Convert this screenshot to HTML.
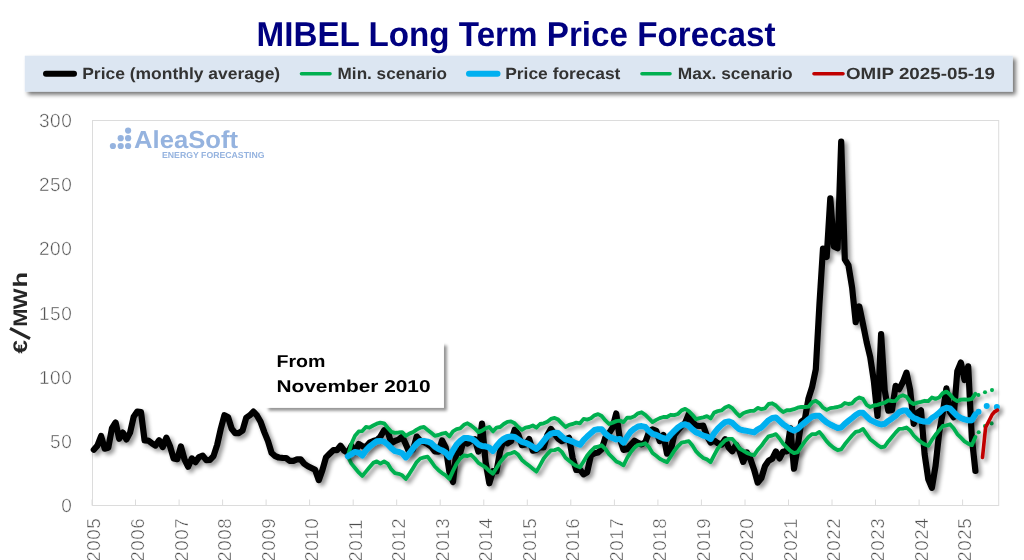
<!DOCTYPE html>
<html><head><meta charset="utf-8">
<style>
html,body{margin:0;padding:0;background:#fff;}
body{width:1024px;height:560px;position:relative;overflow:hidden;font-family:"Liberation Sans",sans-serif;}
#title{position:absolute;left:0;top:13px;width:1032px;text-align:center;font-weight:bold;font-size:32px;line-height:40px;color:#000080;letter-spacing:0px;white-space:nowrap;}
#legend{position:absolute;left:25px;top:56px;width:988px;height:36px;background:#dce6f2;box-shadow:2px 3px 4px rgba(0,0,0,0.45);}
.lt{position:absolute;top:64px;font-weight:bold;font-size:16px;line-height:20px;color:#333;white-space:nowrap;}
#note{position:absolute;left:266px;top:343px;width:178px;height:64px;background:#fff;box-shadow:3px 3px 4px rgba(0,0,0,0.4);}
#note div{position:absolute;left:11px;font-weight:bold;font-size:17px;line-height:20px;color:#000;white-space:nowrap;}
svg{position:absolute;left:0;top:0;will-change:transform;}
svg text{text-rendering:geometricPrecision;}
svg text{font-family:"Liberation Sans",sans-serif;}
</style></head><body>
<svg width="1024" height="560" viewBox="0 0 1024 560">
<defs>
<filter id="sh" filterUnits="userSpaceOnUse" x="0" y="0" width="1024" height="560"><feGaussianBlur in="SourceAlpha" stdDeviation="2.2"/><feOffset dx="2.8" dy="2.8"/><feComponentTransfer><feFuncA type="linear" slope="0.42"/></feComponentTransfer><feMerge><feMergeNode/><feMergeNode in="SourceGraphic"/></feMerge></filter>
</defs>
<rect x="92.5" y="120.5" width="906.2" height="385" fill="#fff" stroke="#dcdcdc" stroke-width="1"/>
<g stroke="#dcdcdc" stroke-width="1"><line x1="92.0" y1="499.5" x2="92.0" y2="505.5"/><line x1="135.5" y1="499.5" x2="135.5" y2="505.5"/><line x1="179.1" y1="499.5" x2="179.1" y2="505.5"/><line x1="222.6" y1="499.5" x2="222.6" y2="505.5"/><line x1="266.1" y1="499.5" x2="266.1" y2="505.5"/><line x1="309.6" y1="499.5" x2="309.6" y2="505.5"/><line x1="353.2" y1="499.5" x2="353.2" y2="505.5"/><line x1="396.7" y1="499.5" x2="396.7" y2="505.5"/><line x1="440.2" y1="499.5" x2="440.2" y2="505.5"/><line x1="483.8" y1="499.5" x2="483.8" y2="505.5"/><line x1="527.3" y1="499.5" x2="527.3" y2="505.5"/><line x1="570.8" y1="499.5" x2="570.8" y2="505.5"/><line x1="614.4" y1="499.5" x2="614.4" y2="505.5"/><line x1="657.9" y1="499.5" x2="657.9" y2="505.5"/><line x1="701.4" y1="499.5" x2="701.4" y2="505.5"/><line x1="745.0" y1="499.5" x2="745.0" y2="505.5"/><line x1="788.5" y1="499.5" x2="788.5" y2="505.5"/><line x1="832.0" y1="499.5" x2="832.0" y2="505.5"/><line x1="875.5" y1="499.5" x2="875.5" y2="505.5"/><line x1="919.1" y1="499.5" x2="919.1" y2="505.5"/><line x1="962.6" y1="499.5" x2="962.6" y2="505.5"/></g>
<g fill="#4d4d4d" stroke="#fff" stroke-width="0.5" font-size="19" letter-spacing="0.6"><text x="72.4" y="512.1" text-anchor="end">0</text><text x="72.4" y="447.9" text-anchor="end">50</text><text x="72.4" y="383.7" text-anchor="end">100</text><text x="72.4" y="319.5" text-anchor="end">150</text><text x="72.4" y="255.3" text-anchor="end">200</text><text x="72.4" y="191.1" text-anchor="end">250</text><text x="72.4" y="126.9" text-anchor="end">300</text></g>
<g fill="#4d4d4d" stroke="#fff" stroke-width="0.5" font-size="18.8" letter-spacing="0.55"><text transform="translate(100.4,561.7) rotate(-90)" >2005</text><text transform="translate(143.9,561.7) rotate(-90)" >2006</text><text transform="translate(187.5,561.7) rotate(-90)" >2007</text><text transform="translate(231.0,561.7) rotate(-90)" >2008</text><text transform="translate(274.5,561.7) rotate(-90)" >2009</text><text transform="translate(318.0,561.7) rotate(-90)" >2010</text><text transform="translate(361.6,561.7) rotate(-90)" >2011</text><text transform="translate(405.1,561.7) rotate(-90)" >2012</text><text transform="translate(448.6,561.7) rotate(-90)" >2013</text><text transform="translate(492.2,561.7) rotate(-90)" >2014</text><text transform="translate(535.7,561.7) rotate(-90)" >2015</text><text transform="translate(579.2,561.7) rotate(-90)" >2016</text><text transform="translate(622.8,561.7) rotate(-90)" >2017</text><text transform="translate(666.3,561.7) rotate(-90)" >2018</text><text transform="translate(709.8,561.7) rotate(-90)" >2019</text><text transform="translate(753.4,561.7) rotate(-90)" >2020</text><text transform="translate(796.9,561.7) rotate(-90)" >2021</text><text transform="translate(840.4,561.7) rotate(-90)" >2022</text><text transform="translate(883.9,561.7) rotate(-90)" >2023</text><text transform="translate(927.5,561.7) rotate(-90)" >2024</text><text transform="translate(971.0,561.7) rotate(-90)" >2025</text></g>
<g font-weight="bold" font-size="19.6" fill="#262626"><text transform="translate(27.1,353.4) rotate(-90)" textLength="13.4" lengthAdjust="spacingAndGlyphs">€</text><line x1="10" y1="328.4" x2="30" y2="338.6" stroke="#262626" stroke-width="3.2"/><text transform="translate(27.1,326.8) rotate(-90)" textLength="18.2" lengthAdjust="spacingAndGlyphs">M</text><text transform="translate(27.1,309.3) rotate(-90)" textLength="20.8" lengthAdjust="spacingAndGlyphs">W</text><text transform="translate(27.1,287.6) rotate(-90)" textLength="15.6" lengthAdjust="spacingAndGlyphs">h</text></g>
<!-- logo -->
<g fill="#95b3df">
<circle cx="112.9" cy="146" r="3.1"/><circle cx="120.7" cy="146" r="3.1"/><circle cx="128.1" cy="146" r="3.1"/>
<circle cx="120.7" cy="138.2" r="3.1"/><circle cx="128.1" cy="138.2" r="3.1"/>
<circle cx="128.1" cy="130.6" r="3.1"/>
<text x="134" y="148.2" font-weight="bold" font-size="24.6" textLength="104" lengthAdjust="spacingAndGlyphs">AleaSoft</text>
<text x="162" y="158.4" font-weight="bold" font-size="8.7" textLength="102.5" lengthAdjust="spacingAndGlyphs">ENERGY FORECASTING</text>
</g>
<g fill="none" stroke-linejoin="round" stroke-linecap="round">
<path d="M93.8,449.7 L97.4,445.6 L101.1,436.0 L104.7,448.6 L108.3,447.8 L112.0,428.1 L115.6,422.5 L119.2,438.8 L122.8,432.6 L126.5,439.4 L130.1,432.6 L133.7,416.7 L137.3,411.5 L141.0,412.1 L144.6,440.5 L148.2,440.6 L151.9,443.3 L155.5,445.5 L159.1,440.2 L162.7,447.0 L166.4,437.6 L170.0,446.2 L173.6,458.4 L177.3,459.2 L180.9,446.4 L184.5,459.4 L188.1,466.7 L191.8,458.4 L195.4,462.2 L199.0,457.1 L202.7,455.6 L206.3,460.2 L209.9,460.0 L213.5,456.1 L217.2,444.8 L220.8,428.8 L224.4,415.2 L228.1,417.3 L231.7,428.8 L235.3,433.2 L238.9,433.1 L242.6,430.4 L246.2,417.8 L249.8,415.3 L253.4,411.6 L257.1,415.7 L260.7,422.1 L264.3,432.1 L268.0,441.2 L271.6,453.0 L275.2,456.1 L278.8,457.5 L282.5,457.8 L286.1,458.0 L289.7,460.9 L293.4,460.8 L297.0,459.3 L300.6,459.3 L304.2,463.7 L307.9,466.2 L311.5,468.0 L315.1,469.8 L318.8,480.1 L322.4,470.1 L326.0,457.4 L329.6,453.8 L333.3,450.2 L336.9,450.2 L340.5,445.7 L344.1,450.6 L347.8,452.8 L351.4,445.8 L355.0,452.4 L358.7,444.0 L362.3,446.2 L365.9,447.0 L369.5,442.6 L373.2,441.1 L376.8,440.1 L380.4,436.6 L384.1,430.2 L387.7,431.6 L391.3,443.2 L394.9,441.0 L398.6,439.7 L402.2,436.6 L405.8,444.2 L409.4,452.5 L413.1,449.4 L416.7,436.6 L420.3,440.7 L424.0,442.0 L427.6,444.2 L431.2,446.6 L434.8,451.3 L438.5,451.7 L442.1,440.5 L445.7,447.5 L449.4,472.0 L453.0,482.0 L456.6,449.5 L460.2,452.8 L463.9,439.6 L467.5,443.6 L471.1,440.9 L474.8,439.2 L478.4,451.6 L482.0,423.6 L485.6,462.1 L489.3,483.3 L492.9,471.1 L496.5,471.4 L500.2,450.9 L503.8,439.9 L507.4,443.4 L511.0,441.2 L514.7,429.7 L518.3,434.6 L521.9,445.2 L525.5,444.4 L529.2,439.1 L532.8,450.7 L536.4,449.9 L540.1,447.1 L543.7,447.4 L547.3,435.0 L550.9,428.9 L554.6,433.9 L558.2,438.7 L561.8,441.2 L565.5,439.6 L569.1,437.8 L572.7,458.4 L576.3,470.0 L580.0,469.6 L583.6,474.3 L587.2,472.2 L590.9,455.4 L594.5,453.3 L598.1,452.5 L601.7,449.3 L605.4,437.5 L609.0,433.2 L612.6,427.6 L616.2,413.5 L619.9,438.9 L623.5,449.9 L627.1,449.2 L630.8,444.8 L634.4,440.8 L638.0,442.9 L641.6,444.4 L645.3,442.2 L648.9,432.4 L652.5,429.3 L656.2,430.9 L659.8,441.1 L663.4,434.9 L667.0,453.7 L670.7,450.5 L674.3,434.8 L677.9,430.3 L681.6,425.9 L685.2,422.7 L688.8,413.8 L692.4,421.8 L696.1,425.7 L699.7,426.0 L703.3,425.7 L706.9,436.0 L710.6,442.6 L714.2,440.6 L717.8,443.2 L721.5,444.7 L725.1,439.2 L728.7,447.6 L732.3,451.2 L736.0,444.7 L739.6,451.1 L743.2,461.9 L746.9,452.5 L750.5,459.3 L754.1,469.7 L757.7,482.6 L761.4,478.0 L765.0,466.0 L768.6,460.8 L772.2,458.8 L775.9,451.4 L779.5,458.4 L783.1,451.5 L786.8,451.4 L790.4,428.1 L794.0,468.7 L797.6,447.0 L801.3,421.8 L804.9,419.1 L808.5,398.4 L812.2,386.7 L815.8,369.3 L819.4,304.9 L823.0,248.5 L826.7,257.0 L830.3,198.3 L833.9,246.4 L837.6,248.3 L841.2,141.6 L844.8,259.4 L848.4,265.1 L852.1,287.5 L855.7,322.2 L859.3,306.5 L863.0,324.2 L866.6,342.0 L870.2,357.0 L873.8,380.8 L877.5,416.0 L881.1,334.0 L884.7,390.3 L888.3,410.7 L892.0,410.0 L895.6,385.9 L899.2,389.2 L902.9,382.0 L906.5,372.6 L910.1,389.6 L913.7,423.8 L917.4,412.7 L921.0,410.2 L924.6,454.0 L928.3,479.2 L931.9,487.8 L935.5,466.3 L939.1,433.3 L942.8,412.5 L946.4,388.4 L950.0,412.1 L953.6,417.3 L957.3,371.2 L960.9,362.5 L964.5,380.0 L968.2,366.3 L971.8,437.3 L975.4,470.9" stroke="#000" stroke-width="6.2" filter="url(#sh)"/>
<path d="M347.8,456.3 L351.4,463.6 L355.0,468.0 L358.7,472.4 L362.3,476.0 L365.9,471.6 L369.5,467.3 L373.2,462.9 L376.8,461.4 L380.4,463.6 L384.1,461.4 L387.7,463.6 L391.3,469.4 L394.9,473.1 L398.6,473.8 L402.2,475.3 L405.8,479.0 L409.4,473.8 L413.1,468.0 L416.7,462.1 L420.3,458.5 L424.0,457.4 L427.6,456.6 L431.2,461.4 L434.8,466.5 L438.5,470.2 L442.1,473.1 L445.7,475.3 L449.4,479.0 L453.0,470.9 L456.6,463.6 L460.2,458.5 L463.9,455.5 L467.5,456.0 L471.1,454.8 L474.8,458.5 L478.4,462.9 L482.0,465.1 L485.6,467.3 L489.3,470.9 L492.9,473.6 L496.5,468.0 L500.2,462.1 L503.8,457.7 L507.4,454.1 L511.0,453.3 L514.7,451.9 L518.3,454.8 L521.9,459.9 L525.5,462.9 L529.2,465.8 L532.8,468.7 L536.4,471.6 L540.1,465.1 L543.7,458.5 L547.3,454.1 L550.9,450.4 L554.6,450.1 L558.2,448.7 L561.8,451.9 L565.5,457.7 L569.1,460.7 L572.7,463.6 L576.3,465.8 L580.0,467.3 L583.6,461.4 L587.2,455.5 L590.9,451.1 L594.5,447.5 L598.1,446.7 L601.7,445.3 L605.4,448.9 L609.0,454.1 L612.6,457.7 L616.2,461.4 L619.9,463.1 L623.5,465.3 L627.1,458.0 L630.8,452.1 L634.4,447.7 L638.0,444.8 L641.6,444.5 L645.3,443.3 L648.9,447.0 L652.5,452.9 L656.2,455.8 L659.8,458.7 L663.4,460.6 L667.0,462.1 L670.7,456.5 L674.3,450.7 L677.9,446.3 L681.6,442.6 L685.2,441.9 L688.8,441.1 L692.4,445.5 L696.1,451.4 L699.7,455.1 L703.3,458.0 L706.9,459.4 L710.6,462.1 L714.2,455.1 L717.8,448.5 L721.5,444.1 L725.1,440.4 L728.7,438.9 L732.3,438.9 L736.0,443.3 L739.6,448.5 L743.2,450.7 L746.9,452.9 L750.5,454.3 L754.1,455.1 L757.7,449.9 L761.4,445.8 L765.0,440.7 L768.6,436.3 L772.2,435.5 L775.9,434.1 L779.5,438.5 L783.1,443.6 L786.8,447.3 L790.4,450.9 L794.0,453.1 L797.6,452.1 L801.3,446.5 L804.9,441.4 L808.5,437.0 L812.2,434.1 L815.8,434.1 L819.4,431.9 L823.0,436.3 L826.7,441.4 L830.3,445.1 L833.9,448.0 L837.6,450.2 L841.2,449.4 L844.8,444.3 L848.4,439.9 L852.1,435.5 L855.7,431.9 L859.3,431.1 L863.0,428.9 L866.6,434.1 L870.2,439.2 L873.8,442.1 L877.5,445.1 L881.1,447.3 L884.7,446.5 L888.3,441.4 L892.0,437.0 L895.6,432.6 L899.2,428.9 L902.9,428.7 L906.5,427.5 L910.1,430.4 L913.7,435.5 L917.4,439.2 L921.0,442.1 L924.6,444.3 L928.3,445.8 L931.9,439.9 L935.5,434.8 L939.1,430.4 L942.8,426.0 L946.4,425.3 L950.0,424.3 L953.6,428.2 L957.3,434.1 L960.9,437.7 L964.5,441.4 L968.2,443.6 L971.8,445.1 L975.4,437.0" stroke="#00b050" stroke-width="3.85" filter="url(#sh)"/>
<path d="M347.8,456.3 L351.4,443.8 L355.0,435.8 L358.7,431.4 L362.3,431.1 L365.9,427.0 L369.5,427.7 L373.2,425.5 L376.8,423.7 L380.4,422.6 L384.1,423.3 L387.7,427.7 L391.3,431.8 L394.9,432.8 L398.6,432.5 L402.2,432.1 L405.8,435.8 L409.4,433.6 L413.1,432.1 L416.7,429.6 L420.3,427.7 L424.0,427.0 L427.6,429.9 L431.2,432.8 L434.8,435.8 L438.5,435.0 L442.1,433.6 L445.7,432.8 L449.4,436.5 L453.0,431.4 L456.6,429.2 L460.2,428.4 L463.9,424.8 L467.5,423.3 L471.1,425.5 L474.8,428.4 L478.4,432.1 L482.0,430.6 L485.6,428.4 L489.3,427.0 L492.9,431.4 L496.5,427.7 L500.2,427.0 L503.8,424.0 L507.4,421.8 L511.0,421.4 L514.7,423.3 L518.3,427.0 L521.9,429.9 L525.5,427.7 L529.2,427.0 L532.8,425.5 L536.4,427.7 L540.1,424.0 L543.7,423.3 L547.3,421.8 L550.9,418.9 L554.6,417.9 L558.2,419.6 L561.8,423.3 L565.5,427.0 L569.1,424.8 L572.7,424.0 L576.3,422.6 L580.0,423.3 L583.6,418.9 L587.2,419.6 L590.9,418.2 L594.5,415.3 L598.1,414.1 L601.7,416.0 L605.4,420.4 L609.0,424.0 L612.6,422.6 L616.2,421.1 L619.9,420.6 L623.5,422.1 L627.1,417.7 L630.8,417.7 L634.4,416.2 L638.0,413.3 L641.6,412.3 L645.3,414.8 L648.9,418.4 L652.5,422.1 L656.2,419.9 L659.8,418.1 L663.4,417.0 L667.0,417.0 L670.7,414.8 L674.3,415.2 L677.9,414.0 L681.6,410.4 L685.2,408.9 L688.8,411.1 L692.4,414.8 L696.1,419.2 L699.7,418.1 L703.3,417.3 L706.9,416.2 L710.6,418.4 L714.2,412.6 L717.8,411.1 L721.5,410.4 L725.1,407.5 L728.7,406.0 L732.3,408.2 L736.0,412.6 L739.6,416.2 L743.2,413.3 L746.9,411.8 L750.5,410.8 L754.1,410.8 L757.7,407.9 L761.4,409.2 L765.0,408.4 L768.6,404.0 L772.2,403.3 L775.9,405.5 L779.5,409.2 L783.1,412.1 L786.8,410.2 L790.4,410.2 L794.0,409.2 L797.6,407.7 L801.3,407.0 L804.9,407.0 L808.5,406.7 L812.2,402.3 L815.8,400.8 L819.4,403.3 L823.0,407.7 L826.7,409.9 L830.3,408.1 L833.9,407.7 L837.6,407.0 L841.2,405.9 L844.8,403.0 L848.4,404.0 L852.1,403.3 L855.7,399.4 L859.3,397.5 L863.0,398.9 L866.6,404.8 L870.2,407.0 L873.8,405.5 L877.5,404.8 L881.1,403.7 L884.7,402.6 L888.3,400.4 L892.0,401.1 L895.6,400.8 L899.2,396.7 L902.9,395.3 L906.5,396.7 L910.1,401.8 L913.7,404.0 L917.4,402.6 L921.0,401.8 L924.6,400.8 L928.3,401.1 L931.9,397.5 L935.5,398.9 L939.1,397.5 L942.8,393.1 L946.4,391.6 L950.0,394.5 L953.6,398.9 L957.3,401.1 L960.9,399.6 L964.5,399.4 L968.2,399.6 L971.8,398.9 L975.4,393.8" stroke="#00b050" stroke-width="3.85" filter="url(#sh)"/>
<path d="M347.8,456.3 L351.4,454.1 L355.0,451.9 L358.7,452.6 L362.3,455.5 L365.9,450.4 L369.5,446.7 L373.2,443.8 L376.8,441.3 L380.4,440.9 L384.1,441.6 L387.7,444.5 L391.3,448.2 L394.9,451.1 L398.6,451.9 L402.2,453.3 L405.8,457.4 L409.4,453.3 L413.1,448.2 L416.7,443.8 L420.3,440.9 L424.0,440.9 L427.6,441.6 L431.2,443.1 L434.8,446.7 L438.5,448.9 L442.1,450.4 L445.7,452.6 L449.4,457.0 L453.0,450.4 L456.6,444.5 L460.2,440.9 L463.9,438.0 L467.5,438.0 L471.1,438.7 L474.8,440.9 L478.4,444.5 L482.0,446.0 L485.6,446.3 L489.3,447.5 L492.9,451.1 L496.5,446.0 L500.2,441.6 L503.8,438.7 L507.4,436.9 L511.0,436.5 L514.7,436.9 L518.3,439.4 L521.9,441.9 L525.5,442.8 L529.2,444.5 L532.8,446.7 L536.4,448.9 L540.1,445.3 L543.7,440.9 L547.3,436.5 L550.9,433.6 L554.6,432.8 L558.2,433.1 L561.8,436.5 L565.5,439.4 L569.1,440.2 L572.7,441.6 L576.3,443.4 L580.0,444.8 L583.6,440.2 L587.2,436.5 L590.9,433.1 L594.5,429.9 L598.1,429.2 L601.7,429.2 L605.4,433.6 L609.0,436.5 L612.6,438.0 L616.2,439.4 L619.9,438.9 L623.5,442.6 L627.1,436.7 L630.8,431.6 L634.4,428.7 L638.0,426.5 L641.6,426.1 L645.3,426.9 L648.9,430.9 L652.5,433.8 L656.2,434.8 L659.8,436.7 L663.4,438.2 L667.0,438.9 L670.7,434.5 L674.3,430.9 L677.9,427.5 L681.6,425.0 L685.2,424.3 L688.8,425.8 L692.4,429.4 L696.1,432.4 L699.7,433.8 L703.3,435.7 L706.9,436.7 L710.6,438.9 L714.2,433.1 L717.8,428.7 L721.5,425.0 L725.1,422.1 L728.7,421.4 L732.3,422.8 L736.0,426.5 L739.6,429.4 L743.2,430.2 L746.9,430.9 L750.5,431.6 L754.1,432.4 L757.7,429.4 L761.4,427.5 L765.0,423.8 L768.6,420.2 L772.2,418.0 L775.9,417.5 L779.5,420.9 L783.1,424.3 L786.8,426.7 L790.4,428.9 L794.0,430.4 L797.6,428.9 L801.3,425.3 L804.9,422.4 L808.5,419.4 L812.2,416.5 L815.8,415.8 L819.4,415.8 L823.0,419.4 L826.7,422.4 L830.3,424.5 L833.9,426.3 L837.6,427.9 L841.2,427.5 L844.8,423.8 L848.4,420.9 L852.1,418.0 L855.7,415.0 L859.3,412.8 L863.0,412.8 L866.6,416.5 L870.2,419.9 L873.8,421.6 L877.5,423.4 L881.1,424.5 L884.7,423.8 L888.3,420.9 L892.0,418.4 L895.6,415.8 L899.2,412.1 L902.9,410.6 L906.5,410.6 L910.1,415.0 L913.7,418.0 L917.4,419.4 L921.0,420.9 L924.6,421.6 L928.3,421.6 L931.9,418.0 L935.5,415.8 L939.1,412.8 L942.8,409.2 L946.4,407.7 L950.0,408.4 L953.6,412.1 L957.3,415.8 L960.9,418.0 L964.5,419.4 L968.2,420.2 L971.8,420.2 L975.4,414.3" stroke="#00b0f0" stroke-width="6" filter="url(#sh)"/>

</g>
<g filter="url(#sh)">
<g fill="#00b050"><circle cx="978.4" cy="395" r="2.05"/><circle cx="985" cy="392.3" r="2.05"/><circle cx="992" cy="390.1" r="2.05"/>
<circle cx="978.7" cy="432.2" r="2.05"/><circle cx="985" cy="426" r="2.05"/><circle cx="991.6" cy="423.4" r="2.05"/></g>
<g fill="#00b0f0"><circle cx="978.5" cy="411.8" r="3"/><circle cx="986.7" cy="405.9" r="3"/><circle cx="996.8" cy="407" r="3"/></g>
</g>
<g fill="none" stroke-linecap="round"><path d="M982.5,457.4 L985.6,427.4 L989.0,420.9 L992.2,414.5 L994.6,411.8 L997.5,410.2" stroke="#c00000" stroke-width="3.6" stroke-linejoin="miter" filter="url(#sh)"/></g>
</svg>
<svg width="1024" height="560" viewBox="0 0 1024 560">
<defs><filter id="ns" filterUnits="userSpaceOnUse" x="0" y="0" width="1024" height="560"><feGaussianBlur in="SourceAlpha" stdDeviation="1.8"/><feOffset dx="2.6" dy="2.5"/><feComponentTransfer><feFuncA type="linear" slope="0.42"/></feComponentTransfer><feMerge><feMergeNode/><feMergeNode in="SourceGraphic"/></feMerge></filter><filter id="bs" filterUnits="userSpaceOnUse" x="0" y="0" width="1024" height="560"><feGaussianBlur in="SourceAlpha" stdDeviation="2"/><feOffset dx="2.5" dy="3"/><feComponentTransfer><feFuncA type="linear" slope="0.55"/></feComponentTransfer><feMerge><feMergeNode/><feMergeNode in="SourceGraphic"/></feMerge></filter></defs>
<text x="256.6" y="45.8" font-weight="bold" font-size="34.6" fill="#000080" textLength="519" lengthAdjust="spacingAndGlyphs">MIBEL Long Term Price Forecast</text>
<rect x="24.8" y="55.7" width="988" height="36" fill="#dce6f2" filter="url(#bs)"/>
<g fill="none" stroke-linecap="round">
<line x1="46" y1="73.8" x2="74" y2="73.8" stroke="#000" stroke-width="6"/>
<line x1="301.5" y1="73.8" x2="330" y2="73.8" stroke="#00b050" stroke-width="3.6"/>
<line x1="469" y1="73.8" x2="497.5" y2="73.8" stroke="#00b0f0" stroke-width="6"/>
<line x1="642" y1="73.8" x2="670" y2="73.8" stroke="#00b050" stroke-width="3.6"/>
<line x1="814" y1="73.8" x2="843" y2="73.8" stroke="#c00000" stroke-width="3.6"/>
</g>
<g font-weight="bold" font-size="16.2" fill="#333">
<text x="82.2" y="79" textLength="198" lengthAdjust="spacingAndGlyphs">Price (monthly average)</text>
<text x="337.6" y="79" textLength="109.5" lengthAdjust="spacingAndGlyphs">Min. scenario</text>
<text x="505.2" y="79" textLength="115.2" lengthAdjust="spacingAndGlyphs">Price forecast</text>
<text x="677.8" y="79" textLength="114.8" lengthAdjust="spacingAndGlyphs">Max. scenario</text>
<text x="846" y="79" textLength="149" lengthAdjust="spacingAndGlyphs">OMIP 2025-05-19</text>
</g>
<rect x="265.5" y="342.5" width="178.4" height="65.3" fill="#fff" filter="url(#ns)"/>
<g font-weight="bold" font-size="17.2" fill="#000">
<text x="276.5" y="367" textLength="49" lengthAdjust="spacingAndGlyphs">From</text>
<text x="276.5" y="392.3" textLength="154" lengthAdjust="spacingAndGlyphs">November 2010</text>
</g>
</svg>
</body></html>
